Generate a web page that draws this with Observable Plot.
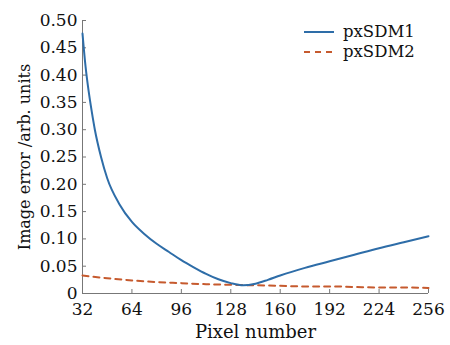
<!DOCTYPE html>
<html><head><meta charset="utf-8">
<script src="https://cdn.jsdelivr.net/npm/d3@7"></script>
<script src="https://cdn.jsdelivr.net/npm/@observablehq/plot@0.6"></script>
<style>
body{margin:0;background:#fff;}
#wrap{position:relative;width:450px;height:345px;font-family:"DejaVu Serif",serif;}
#wrap svg{overflow:visible;}
#legend{position:absolute;left:303px;top:22px;font-size:16.5px;color:#111;line-height:20px;}
#legend div{display:flex;align-items:center;}
#legend svg{margin-right:8px;}
</style></head>
<body><div id="wrap"><div id="legend"></div></div>
<script>
const seriesNames = ["pxSDM1", "pxSDM2"];
const colors = ["#2e6da8", "#c65a2e"];
const x1 = [32,34,36,38,40,44,48,56,64,72,80,88,96,104,112,120,128,136,144,152,160,176,192,208,224,240,256];
const y1 = [0.476,0.415,0.370,0.333,0.300,0.250,0.211,0.163,0.131,0.109,0.091,0.076,0.061,0.048,0.036,0.026,0.019,0.015,0.018,0.025,0.033,0.047,0.059,0.071,0.083,0.094,0.105];
const x2 = [32,48,64,80,96,112,128,144,160,176,192,208,224,240,256];
const y2 = [0.033,0.028,0.024,0.021,0.019,0.017,0.016,0.015,0.014,0.013,0.013,0.012,0.011,0.011,0.010];
const xTicks = [32,64,96,128,160,192,224,256];
const yTicks = [0,0.05,0.10,0.15,0.20,0.25,0.30,0.35,0.40,0.45,0.50];
const yTickLabels = ["0","0.05","0.10","0.15","0.20","0.25","0.30","0.35","0.40","0.45","0.50"];

const d1 = x1.map((x,i)=>({x, y:y1[i]}));
const d2 = x2.map((x,i)=>({x, y:y2[i]}));

const W=450,H=345,ml=82,mr=22,mt=20,mb=52;
const plotW=W-ml-mr, plotH=H-mt-mb;

const chart = Plot.plot({
  width: W, height: H,
  marginLeft: ml, marginRight: mr, marginTop: mt, marginBottom: mb,
  style: {fontFamily: "DejaVu Serif, serif", fontSize: "17px", color: "#111", background: "#fff"},
  x: {domain: [32,256]},
  y: {domain: [0,0.5]},
  marks: [
    Plot.axisX({ticks: xTicks, tickSize: 0, tickPadding: 9, label: null, fontSize: 17}),
    Plot.axisY({ticks: yTicks, tickSize: 0, tickPadding: 5, label: null, fontSize: 17,
      tickFormat: d => yTickLabels[yTicks.indexOf(d)]}),
    Plot.ruleY(yTicks, {stroke: "#777", insetRight: plotW-4}),
    Plot.ruleX(xTicks, {stroke: "#777", insetTop: plotH-4}),
    Plot.ruleY([0], {stroke: "#777"}),
    Plot.ruleX([32], {stroke: "#777"}),
    Plot.line(d2, {x:"x", y:"y", stroke: colors[1], strokeWidth: 2, strokeDasharray: "6,5", curve: "monotone-x"}),
    Plot.line(d1, {x:"x", y:"y", stroke: colors[0], strokeWidth: 2, curve: "monotone-x"}),
    Plot.text(["Pixel number"], {frameAnchor: "bottom", dy: 44, fontSize: 18, fill: "#111"}),
    Plot.text(["Image error /arb. units"], {frameAnchor: "left", textAnchor: "middle", dx: -58, rotate: -90, fontSize: 16, fill: "#111"})
  ]
});
const wrap = document.getElementById("wrap");
wrap.insertBefore(chart, wrap.firstChild);

const leg = document.getElementById("legend");
seriesNames.forEach((n,i)=>{
  const row = document.createElement("div");
  row.innerHTML = `<svg width="32" height="10"><line x1="1" y1="5" x2="31" y2="5" stroke="${colors[i]}" stroke-width="2" ${i?'stroke-dasharray="6,5"':''}/></svg><span>${n}</span>`;
  leg.appendChild(row);
});
</script></body></html>
